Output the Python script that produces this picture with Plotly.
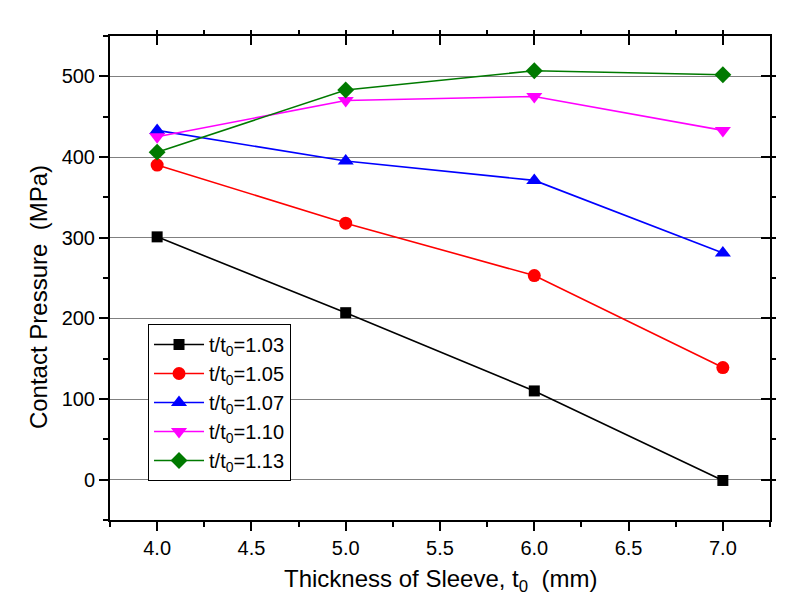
import plotly.graph_objects as go

x_thickness = [4.0, 5.0, 6.0, 7.0]
series_names = ["t/t<sub>0</sub>=1.03", "t/t<sub>0</sub>=1.05", "t/t<sub>0</sub>=1.07",
                "t/t<sub>0</sub>=1.10", "t/t<sub>0</sub>=1.13"]
p103 = [301, 207, 110, -1]
p105 = [390, 318, 253, 139]
p107 = [433, 395, 371, 281]
p110 = [425, 470, 475, 433]
p113 = [406, 483, 507, 502]

series_values = [p103, p105, p107, p110, p113]
colors = ["#000000", "#ff0000", "#0000ff", "#ff00ff", "#007a00"]
symbols = ["square", "circle", "triangle-up", "triangle-down", "diamond"]
sizes = [11, 13, 14, 14, 13]

fig = go.Figure()
for name, vals, c, s, sz in zip(series_names, series_values, colors, symbols, sizes):
    fig.add_trace(go.Scatter(x=x_thickness, y=vals, name=name, mode="lines+markers",
                             line=dict(color=c, width=1.6),
                             marker=dict(symbol=s, size=sz, color=c, line=dict(width=0))))

# invisible trace for mirror axes
fig.add_trace(go.Scatter(x=[4.0], y=[0], xaxis="x2", yaxis="y2", mode="markers",
                         marker=dict(opacity=0), showlegend=False, hoverinfo="skip"))

font_fam = "Arial, Liberation Sans, sans-serif"
common_x = dict(range=[3.75, 7.25], tickvals=[4.0, 4.5, 5.0, 5.5, 6.0, 6.5, 7.0],
                ticklen=9, tickwidth=2, tickcolor="black",
                minor=dict(dtick=0.25, tick0=3.75, ticklen=5, tickwidth=2, tickcolor="black"),
                showgrid=False, zeroline=False, automargin=False)
common_y = dict(range=[-50, 550], tickvals=[0, 100, 200, 300, 400, 500],
                ticklen=9, tickwidth=2, tickcolor="black",
                minor=dict(dtick=50, tick0=-50, ticklen=5, tickwidth=2, tickcolor="black", showgrid=False),
                zeroline=False, automargin=False)

fig.update_layout(
    width=811, height=610,
    margin=dict(l=102, r=49, t=28, b=98),
    paper_bgcolor="white", plot_bgcolor="white",
    font=dict(family=font_fam, color="black"),
    xaxis=dict(**common_x, ticks="outside", showline=True, linecolor="black", linewidth=2,
               mirror=True, tickformat=".1f", tickfont=dict(size=20)),
    yaxis=dict(**common_y, ticks="outside", showline=True, linecolor="black", linewidth=2,
               mirror=True, showgrid=True, gridcolor="#808080", gridwidth=1,
               tickfont=dict(size=20)),
    xaxis2=dict(**common_x, overlaying="x", side="top", ticks="inside", showticklabels=False,
                showline=False),
    yaxis2=dict(**common_y, overlaying="y", side="right", ticks="inside", showticklabels=False,
                showline=False, showgrid=False),
    legend=dict(x=0.0576, y=0.405, xanchor="left", yanchor="top",
                bordercolor="black", borderwidth=1, bgcolor="white",
                font=dict(size=20, family=font_fam), itemwidth=50, tracegroupgap=0),
    showlegend=True,
    annotations=[
        dict(text="Thickness of Sleeve, t<sub>0</sub>  (mm)", xref="paper", yref="paper",
             x=0.5, y=-0.124, xanchor="center", yanchor="middle", showarrow=False,
             font=dict(size=24, family=font_fam)),
        dict(text="Contact Pressure  (MPa)", xref="paper", yref="paper",
             x=-0.108, y=0.46, xanchor="center", yanchor="middle", showarrow=False,
             textangle=-90, font=dict(size=24, family=font_fam)),
    ],
)

fig.write_html("out.html")
